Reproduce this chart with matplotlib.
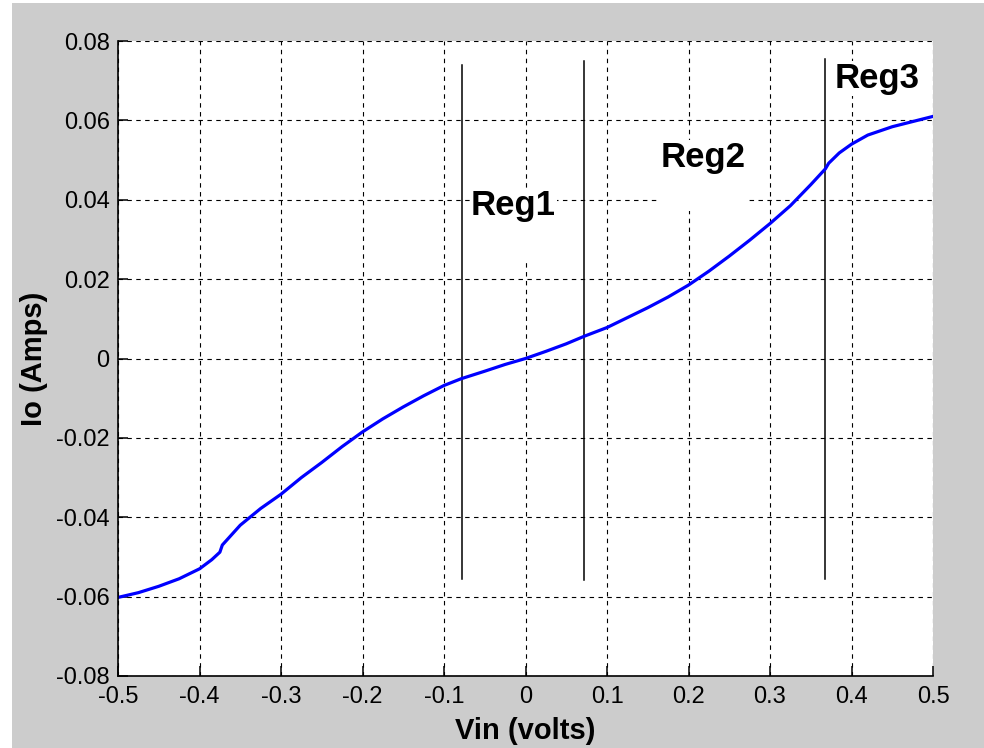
import matplotlib
matplotlib.use("Agg")
import matplotlib.pyplot as plt
from matplotlib.patches import Rectangle
from matplotlib.ticker import FuncFormatter

# Output current vs input voltage, traced sweep
vin = [-0.5, -0.475, -0.45, -0.425, -0.4, -0.385, -0.375, -0.372, -0.35,
       -0.325, -0.3, -0.275, -0.25, -0.225, -0.2, -0.175, -0.15, -0.125,
       -0.1, -0.079, -0.05, -0.025, 0.0, 0.025, 0.05, 0.072, 0.1, 0.125,
       0.15, 0.175, 0.2, 0.225, 0.25, 0.275, 0.3, 0.325, 0.35, 0.368,
       0.372, 0.385, 0.4, 0.42, 0.45, 0.475, 0.5]
io = [-0.0602, -0.0590, -0.0574, -0.0555, -0.0530, -0.0507, -0.0488, -0.0470,
      -0.0420, -0.0378, -0.0342, -0.0300, -0.0262, -0.0222, -0.0185, -0.0152,
      -0.0122, -0.0094, -0.0068, -0.0051, -0.0032, -0.0015, 0.0, 0.0018,
      0.0037, 0.0056, 0.0078, 0.0103, 0.0128, 0.0155, 0.0185, 0.0220, 0.0258,
      0.0298, 0.0340, 0.0385, 0.0438, 0.0478, 0.0492, 0.0518, 0.0540, 0.0563,
      0.0584, 0.0597, 0.0610]

# region boundaries (x, y_bottom, y_top)
bound_x = [-0.078, 0.072, 0.367]
bound_lo = [-0.0555, -0.0558, -0.0555]
bound_hi = [0.0740, 0.0750, 0.0755]

# region labels: text, x, y (top of text)
reg_text = ["Reg1\n ", "Reg2\n ", "Reg3"]
reg_x = [-0.0669, 0.1657, 0.3791]
reg_y = [0.0427, 0.0548, 0.0747]

xticks = [-0.5, -0.4, -0.3, -0.2, -0.1, 0, 0.1, 0.2, 0.3, 0.4, 0.5]
yticks = [-0.08, -0.06, -0.04, -0.02, 0, 0.02, 0.04, 0.06, 0.08]

plt.rcParams["font.family"] = ["Liberation Sans", "DejaVu Sans"]
plt.rcParams["axes.unicode_minus"] = False

fig = plt.figure(figsize=(9.84, 7.48), dpi=100, facecolor="white")
fig.patches.append(Rectangle((12 / 984, 0), 1, 1 - 3 / 748,
                             transform=fig.transFigure, facecolor="#cccccc",
                             edgecolor="none", zorder=-5))

ax = fig.add_axes([118 / 984, 72 / 748, 815 / 984, 635 / 748])
ax.set_zorder(1)
ax.set_facecolor("white")

ax.plot(vin, io, color="#0000ff", linewidth=2.3, zorder=4)
for bx, lo, hi in zip(bound_x, bound_lo, bound_hi):
    ax.plot([bx, bx], [lo, hi], color="black", linewidth=1.1, zorder=3)

for txt, tx, ty in zip(reg_text, reg_x, reg_y):
    ax.text(tx, ty, txt, fontsize=25, fontweight="bold", ha="left", va="top",
            linespacing=1.1, zorder=5,
            bbox=dict(facecolor="white", edgecolor="none", pad=1))

ax.set_xlim(-0.5, 0.5)
ax.set_ylim(-0.08, 0.08)
ax.set_xticks(xticks)
ax.set_yticks(yticks)
fmt = FuncFormatter(lambda v, pos: "%g" % round(v, 4))
ax.xaxis.set_major_formatter(fmt)
ax.yaxis.set_major_formatter(fmt)

ax.grid(True, color="black", linestyle=(0, (4, 4)), linewidth=0.8)
ax.set_axisbelow(True)
for side in ["top", "right"]:
    ax.spines[side].set_visible(False)
for side in ["left", "bottom"]:
    ax.spines[side].set_linewidth(1.2)
    ax.spines[side].set_zorder(6)

ax.tick_params(direction="in", length=7, width=1.1, labelsize=17,
               colors="black", top=False, right=False)
ax.tick_params(axis="y", pad=6)
ax.tick_params(axis="x", pad=7)

ax.set_xlabel("Vin (volts)", fontsize=21, fontweight="bold", labelpad=7)
ax.set_ylabel("Io (Amps)", fontsize=21, fontweight="bold", labelpad=6)

fig.savefig("out.png", dpi=100, facecolor=fig.get_facecolor())
